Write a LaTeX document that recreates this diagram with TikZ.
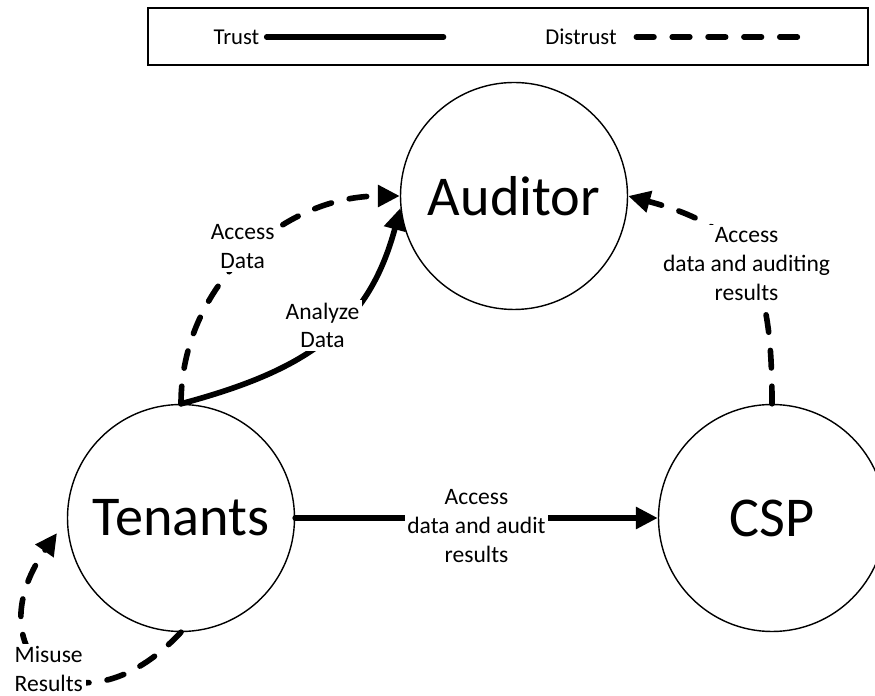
\documentclass[tikz,border=0pt]{standalone}
\usepackage{fontspec}
\setmainfont{Carlito}
\usetikzlibrary{arrows.meta}

\begin{document}
\begin{tikzpicture}[>={Triangle[length=12.5pt,width=12pt]},line cap=round,
  party/.style={circle,draw,line width=0.8pt,minimum size=4.54cm,inner sep=0pt,font=\fontsize{32}{38}\selectfont},
  trust/.style={line width=3.2pt},
  distrust/.style={line width=3.2pt,dash pattern=on 10pt off 10.4pt},
  lbl/.style={fill=white,align=center,inner sep=1.5pt,font=\fontsize{13.4}{16.4}\selectfont},
  keytxt/.style={inner sep=4pt,font=\fontsize{12.9}{15.5}\selectfont}]
\useasboundingbox (0,0) rectangle (17.5,13.92);
% legend
\node[draw,line width=1.1pt,minimum width=14.4cm,minimum height=1.14cm] (legend) at (10.16,13.19) {};
\node[keytxt] (trusttxt) at (4.73,13.18) {Trust};
\coordinate (trustend) at (8.87,13.18);
\node[keytxt] (distrusttxt) at (11.62,13.18) {Distrust};
\coordinate (distrustend) at (16.0,13.18);
\draw[trust] (trusttxt) -- (trustend);
\draw[distrust,shorten <=7pt] (distrusttxt) -- (distrustend);
% parties
\node[party] (auditor) at (10.28,10.0) {Auditor};
\node[party] (tenants) at (3.62,3.56) {Tenants};
\node[party] (csp) at (15.44,3.56) {CSP};
% links
\draw[distrust,->] (tenants.north) to[out=90,in=180] node[lbl,xshift=-2pt,yshift=5pt] {Access\\Data} (auditor.west);
\draw[trust,->] (tenants.north) to[out=15,in=255,looseness=1.1] node[lbl,xshift=-1pt,yshift=8pt] {Analyze\\Data} (auditor.186);
\draw[trust,->] (tenants.east) -- node[lbl,yshift=-4.5pt] {Access\\data and audit\\results} (csp.west);
\draw[distrust,->] (csp.north) to[out=90,in=-15,looseness=1.3] node[lbl] {Access\\data and auditing\\results} (auditor.east);
\coordinate (misuseend) at (1.14,3.26);
\draw[distrust,->] (tenants.south) to[out=227,in=235,looseness=2.4] node[lbl,align=left] (misuse) {Misuse\\Results} (misuseend);
\end{tikzpicture}
\end{document}
